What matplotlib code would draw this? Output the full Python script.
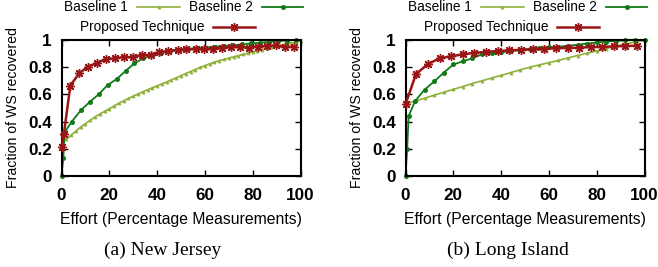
import matplotlib
matplotlib.use("Agg")
import matplotlib.pyplot as plt
from matplotlib.lines import Line2D

# ---------------- data ----------------
# (a) New Jersey
nj_b1_x = list(range(0, 101, 2))
nj_b1_y = [0.24, 0.27, 0.30, 0.33, 0.36, 0.385, 0.41, 0.435, 0.455, 0.475,
           0.495, 0.515, 0.535, 0.553, 0.57, 0.587, 0.603, 0.619, 0.634, 0.649,
           0.663, 0.677, 0.691, 0.707, 0.722, 0.738, 0.753, 0.768, 0.783, 0.798,
           0.812, 0.825, 0.837, 0.848, 0.858, 0.867, 0.876, 0.885, 0.894, 0.903,
           0.912, 0.921, 0.93, 0.938, 0.946, 0.953, 0.961, 0.969, 0.977, 0.986, 0.995]
nj_b2_x = [0, 0.75, 1.3, 4.3, 8.2, 11.9, 15.7, 19.3, 23.1, 26.9, 30.5, 34.3, 38.0,
           41.8, 45.5, 49.3, 53.0, 56.8, 60.5, 64.3, 68.0, 71.8, 75.5, 79.3, 83.0,
           86.8, 90.5, 94.3, 98.0]
nj_b2_y = [0.0, 0.13, 0.32, 0.40, 0.485, 0.546, 0.603, 0.669, 0.713, 0.774, 0.828,
           0.865, 0.89, 0.905, 0.918, 0.928, 0.935, 0.94, 0.944, 0.95, 0.955, 0.96,
           0.967, 0.975, 0.98, 0.986, 0.992, 0.996, 1.0]
nj_pt_x = [0, 1, 3.7, 7.4, 11.2, 14.9, 18.6, 22.4, 26.1, 29.8, 33.5, 37.3, 40.9,
           44.7, 48.6, 52.3, 56.1, 59.7, 63.5, 67.3, 70.9, 74.7, 78.4, 82.2, 85.9,
           89.6, 93.5, 97.2]
nj_pt_y = [0.21, 0.31, 0.665, 0.755, 0.805, 0.832, 0.86, 0.865, 0.875, 0.873, 0.89,
           0.89, 0.91, 0.92, 0.926, 0.931, 0.934, 0.931, 0.936, 0.942, 0.947, 0.95,
           0.943, 0.952, 0.957, 0.96, 0.948, 0.951]

# (b) Long Island
li_b1_x = list(range(0, 101, 4))
li_b1_y = [0.53, 0.551, 0.572, 0.594, 0.616, 0.637, 0.658, 0.68, 0.70, 0.72,
           0.74, 0.76, 0.781, 0.80, 0.817, 0.833, 0.85, 0.868, 0.886, 0.903,
           0.92, 0.937, 0.953, 0.97, 0.985, 1.0]
li_b2_x = [0, 0.7, 1.3, 4, 8, 12, 16, 20, 24, 28, 32, 36, 40, 44, 48, 52, 56, 60,
           64, 68, 72, 76, 80, 84, 88, 92, 96, 100]
li_b2_y = [0.0, 0.2, 0.44, 0.551, 0.635, 0.695, 0.76, 0.82, 0.843, 0.866, 0.895,
           0.902, 0.91, 0.919, 0.926, 0.935, 0.942, 0.946, 0.95, 0.958, 0.965, 0.974,
           0.982, 0.988, 0.993, 0.997, 1.0, 1.0]
li_pt_x = [0, 4.4, 9.5, 14.3, 19.2, 24.1, 28.7, 33.7, 38.5, 43.5, 48.2, 53.2, 58.1,
           63, 67.8, 72.5, 77.5, 82.3, 87.3, 92, 96.9]
li_pt_y = [0.527, 0.75, 0.825, 0.865, 0.88, 0.895, 0.905, 0.913, 0.919, 0.924, 0.928,
           0.931, 0.936, 0.939, 0.943, 0.943, 0.949, 0.949, 0.954, 0.956, 0.958]

series_names = ["Baseline 1", "Baseline 2", "Proposed Technique"]
captions = ["(a) New Jersey", "(b) Long Island"]
x_ticks = [0, 20, 40, 60, 80, 100]
y_ticks = [0, 0.2, 0.4, 0.6, 0.8, 1]
y_ticklabels = ["0", "0.2", "0.4", "0.6", "0.8", "1"]

# ---------------- style ----------------
C_B1 = "#8fb03a"
C_B2 = "#117a17"
C_PT = "#9a1616"
ASTER = (8, 2, 0)

styles = [
    dict(color=C_B1, lw=1.2, marker="^", ms=2.2, mew=0.5),
    dict(color=C_B2, lw=1.3, marker="o", ms=3.6, mew=0),
    dict(color=C_PT, lw=1.8, marker=ASTER, ms=6.5, mew=1.0),
]

W, H = 658, 267
fig = plt.figure(figsize=(W / 100, H / 100), dpi=100)
plt.rcParams["font.family"] = ["Liberation Sans", "DejaVu Sans"]

axes_px = [(61.5, 300.5), (405.5, 644.5)]
top_px, bot_px = 40, 176

datasets = [
    [(nj_b1_x, nj_b1_y), (nj_b2_x, nj_b2_y), (nj_pt_x, nj_pt_y)],
    [(li_b1_x, li_b1_y), (li_b2_x, li_b2_y), (li_pt_x, li_pt_y)],
]
cap_x = [162.5, 507.5]

for i, (x0, x1) in enumerate(axes_px):
    ax = fig.add_axes([x0 / W, 1 - bot_px / H, (x1 - x0) / W, (bot_px - top_px) / H])
    for (xs, ys), st, name in zip(datasets[i], styles, series_names):
        ax.plot(xs, ys, color=st["color"], lw=st["lw"], marker=st["marker"],
                ms=st["ms"], mew=st["mew"], mec=st["color"], mfc=st["color"],
                label=name, clip_on=False, zorder=3 if name.startswith("Prop") else 2)
    ax.set_xlim(0, 100)
    ax.set_ylim(0, 1)
    ax.set_xticks(x_ticks)
    ax.set_yticks(y_ticks)
    ax.set_yticklabels(y_ticklabels)
    ax.tick_params(direction="in", length=4, width=1, top=True, right=True,
                   labelsize=12.3)
    ax.tick_params(axis="x", pad=9)
    ax.tick_params(axis="y", pad=7)
    for lab in ax.get_xticklabels() + ax.get_yticklabels():
        lab.set_fontweight("bold")
    for sp in ax.spines.values():
        sp.set_linewidth(1.5)
    ax.set_xlabel("Effort (Percentage Measurements)", fontsize=11.3, labelpad=6)
    ax.set_ylabel("Fraction of WS recovered", fontsize=10.2, labelpad=6)

    # gnuplot-style legend (text then sample) above the plot
    rows = [
        [(0, 128, 137, 180, 7), (1, 253, 262, 303, 7)],
        [(2, 204, 213, 255, 27)],
    ]
    off = x0 - 61.5
    for row in rows:
        for (k, tx, lx0, lx1, yy) in row:
            st = styles[k]
            fig.text((tx + off) / W, 1 - yy / H, series_names[k], ha="right",
                     va="center", fontsize=9.8)
            fig.add_artist(Line2D([(lx0 + off) / W, (lx1 + off) / W],
                                  [1 - yy / H, 1 - yy / H], transform=fig.transFigure,
                                  color=st["color"], lw=st["lw"]))
            fig.add_artist(Line2D([(lx0 + lx1) / 2 / W + off / W], [1 - yy / H],
                                  transform=fig.transFigure, color=st["color"],
                                  marker=st["marker"], ms=st["ms"], mew=st["mew"],
                                  mec=st["color"], mfc=st["color"]))
    fig.text(cap_x[i] / W, 1 - 250 / H, captions[i], ha="center", va="center",
             fontsize=14, family=["Liberation Serif", "DejaVu Serif"])

fig.savefig("out.png", dpi=100)
